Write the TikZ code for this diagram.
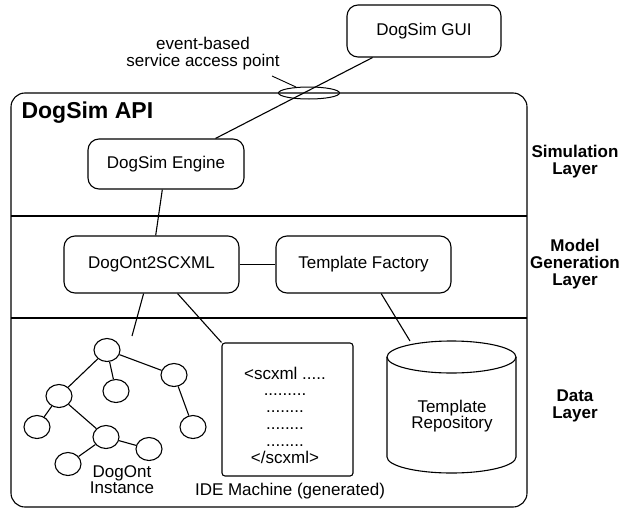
\documentclass[tikz,border=0pt]{standalone}
\usepackage{fontspec}
\setmainfont{Liberation Sans}
\usetikzlibrary{shapes.geometric}
\begin{document}
\begin{tikzpicture}[x=1pt,y=-1pt,line width=1.1pt,
  txt/.style={font=\fontsize{17}{17}\selectfont, align=center, inner sep=0pt},
  layerlabel/.style={font=\fontsize{17}{17}\selectfont\bfseries, align=center, inner sep=0pt},
  rbox/.style={draw, rounded corners=11pt, font=\fontsize{17}{17}\selectfont, align=center, inner sep=0pt},
  tnode/.style={draw, ellipse, minimum width=26pt, minimum height=23pt, inner sep=0pt}]
\useasboundingbox (0,0) rectangle (623,514);

% API frame and layer separators
\draw[rounded corners=14pt] (11,93) rectangle (527,507);
\node[font=\fontsize{23}{23}\selectfont\bfseries, anchor=west, inner sep=0pt] (api) at (21,113) {DogSim API};
\draw[line width=2pt] (11,216) -- (527,216);
\draw (11,318) -- (527,318);

% layer labels
\node[layerlabel] (lsim) at (575,162) {Simulation\\Layer};
\node[layerlabel] (lmod) at (575,264) {Model\\Generation\\Layer};
\node[layerlabel] (ldat) at (575,406) {Data\\Layer};

% boxes
\node[rbox, minimum width=154pt, minimum height=52pt] (gui) at (424,31) {DogSim GUI};
\node[rbox, minimum width=156pt, minimum height=50pt] (engine) at (166,164) {DogSim Engine};
\node[rbox, minimum width=175pt, minimum height=57pt] (d2s) at (151.5,264.5) {DogOnt2SCXML};
\node[rbox, minimum width=175pt, minimum height=57pt] (tf) at (363.5,264.5) {Template Factory};

% service access point
\node[draw, ellipse, minimum width=61pt, minimum height=12pt, inner sep=0pt, line width=1pt] (sap) at (309,93) {};
\node[txt] (saplabel) at (203,54) {event-based\\service access point};
\coordinate (saptail) at (272,76);
\draw[line width=0.9pt] (saptail) -- (sap);

% IDE machine
\node[draw, rounded corners=3pt, minimum width=131pt, minimum height=133pt, inner sep=0pt] (ide) at (287.5,409.5) {};
\node[font=\fontsize{17}{16.8}\selectfont, align=center, inner sep=0pt] (idetext) at (285,415)
  {<scxml .....\\.........\\........\\........\\........\\</scxml>};
\node[txt] (idelabel) at (290,491) {IDE Machine (generated)};

% Template repository cylinder
\draw (451.5,357) ellipse [x radius=64.5, y radius=16];
\draw (387,357) -- (387,457) arc[start angle=180, end angle=0, x radius=64.5, y radius=16] -- (516,357);
\node[txt, font=\fontsize{17}{16}\selectfont] (repo) at (452,416) {Template\\Repository};
\coordinate (repotop) at (410,341);

% DogOnt instance tree
\node[tnode] (A) at (107,350) {};
\node[tnode] (B) at (59,396) {};
\node[tnode] (C) at (116,391) {};
\node[tnode] (D) at (174,375) {};
\node[tnode] (E) at (37,427) {};
\node[tnode] (F) at (106,437) {};
\node[tnode] (G) at (193,427) {};
\node[tnode] (H) at (149,449) {};
\node[tnode] (I) at (68,464) {};
\draw (A) -- (B);
\draw (A) -- (C);
\draw (A) -- (D);
\draw (B) -- (E);
\draw (B) -- (F);
\draw (D) -- (G);
\draw (F) -- (H);
\draw (F) -- (I);
\node[txt, font=\fontsize{17}{16}\selectfont] (dogont) at (122,480) {DogOnt\\Instance};
\coordinate (treeend) at (132,336);

% connectors
\draw (gui) -- (engine);
\draw (engine) -- (d2s);
\draw (d2s) -- (tf);
\draw (d2s) -- (treeend);
\draw (d2s) -- (ide.north west);
\draw (tf) -- (repotop);
\end{tikzpicture}
\end{document}
